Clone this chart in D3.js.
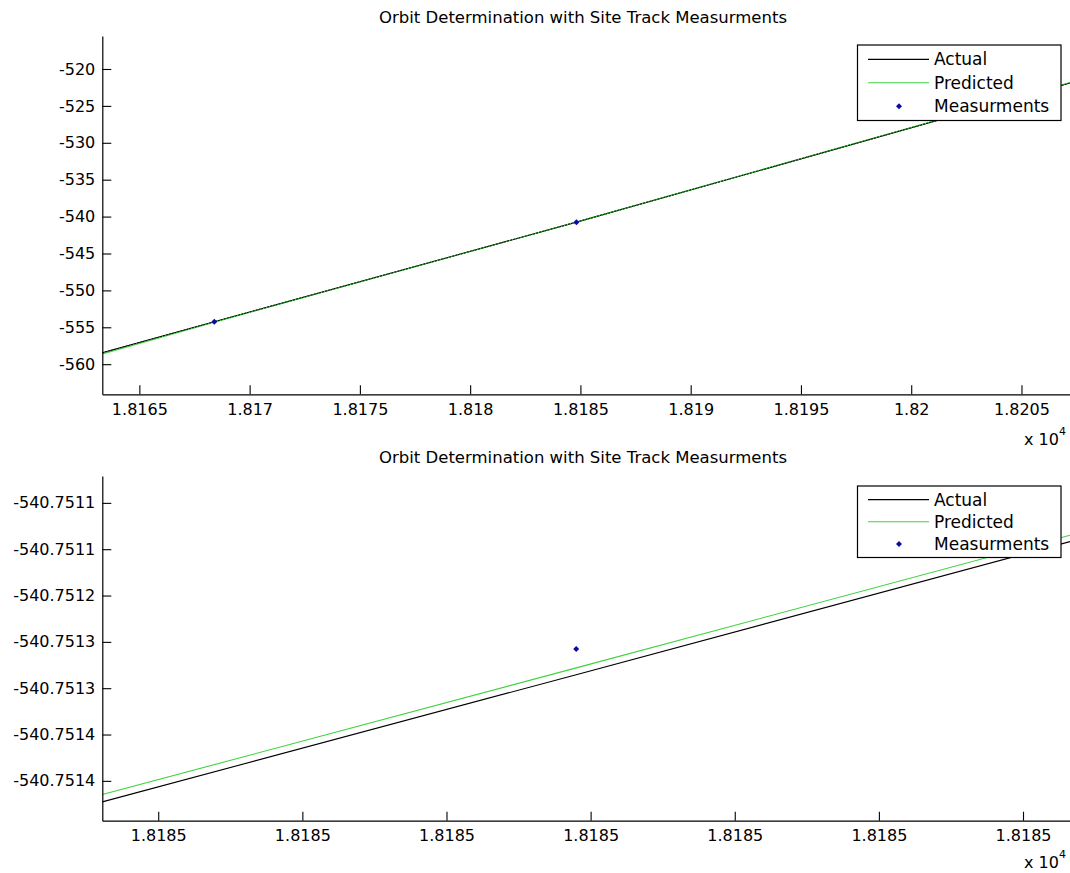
<!DOCTYPE html>
<html>
<head>
<meta charset="utf-8">
<script src="https://cdn.jsdelivr.net/npm/d3@7"></script>
<style>
  html, body { margin: 0; padding: 0; background: #fff; }
  svg { display: block; }
  text { font-family: "DejaVu Sans", sans-serif; fill: #000; }
</style>
</head>
<body>
<svg id="chart" width="1070" height="873"></svg>
<script>
// ---------- DATA ----------
const titleText = "Orbit Determination with Site Track Measurments";
const legendLabels = ["Actual", "Predicted", "Measurments"];

// Top panel
const topXDomain = [18163.32, 18207.2];
const topYDomain = [-564.08, -515.53];
const topXTicks = [18165, 18170, 18175, 18180, 18185, 18190, 18195, 18200, 18205];
const topXTickLabels = ["1.8165", "1.817", "1.8175", "1.818", "1.8185", "1.819", "1.8195", "1.82", "1.8205"];
const topYTicks = [-520, -525, -530, -535, -540, -545, -550, -555, -560];
const topYTickLabels = ["-520", "-525", "-530", "-535", "-540", "-545", "-550", "-555", "-560"];
const topTime = [18163.32, 18168.4, 18184.82, 18207.2];
const topActual = [-558.45, -554.25, -540.7513, -521.9];
const topPredicted = [-558.6, -554.3, -540.7513, -521.85];
const topMeasTime = [18168.4, 18184.82];
const topMeasVal = [-554.24, -540.7513];

// Bottom panel
const botXDomain = [18184.8198306, 18184.8201663];
const botYDomain = [-540.751443, -540.751071];
const botXTicks = [18184.81985, 18184.81990, 18184.81995, 18184.82000, 18184.82005, 18184.82010, 18184.82015];
const botXTickLabels = ["1.8185", "1.8185", "1.8185", "1.8185", "1.8185", "1.8185", "1.8185"];
const botYTicks = [-540.75110, -540.75115, -540.75120, -540.75125, -540.75130, -540.75135, -540.75140];
const botYTickLabels = ["-540.7511", "-540.7511", "-540.7512", "-540.7513", "-540.7513", "-540.7514", "-540.7514"];
const botTime = [18184.8198306, 18184.819995, 18184.8201663];
const botActual = [-540.7514227, -540.7512854, -540.7511418];
const botPredicted = [-540.7514148, -540.7512781, -540.751135];
const botMeasTime = [18184.819995];
const botMeasVal = [-540.7512576];

// ---------- STYLE ----------
const colActual = "#000000";
const colPred = "#3fd23f";
const colMeas = "#0a0aa8";

const svg = d3.select("#chart");

function panel(cfg) {
  const g = svg.append("g");
  const x = d3.scaleLinear().domain(cfg.xDomain).range([cfg.left, cfg.right]);
  const y = d3.scaleLinear().domain(cfg.yDomain).range([cfg.bottom, cfg.top]);

  const clipId = "clip" + cfg.id;
  svg.append("clipPath").attr("id", clipId)
    .append("rect").attr("x", cfg.left).attr("y", cfg.top)
    .attr("width", cfg.right - cfg.left).attr("height", cfg.bottom - cfg.top);

  const plot = g.append("g").attr("clip-path", `url(#${clipId})`);
  const line = d3.line().x(d => x(d[0])).y(d => y(d[1]));

  const act = cfg.time.map((t, i) => [t, cfg.actual[i]]);
  const pred = cfg.time.map((t, i) => [t, cfg.predicted[i]]);

  plot.append("path").datum(act).attr("d", line)
    .attr("fill", "none").attr("stroke", colActual).attr("stroke-width", 1.1);
  plot.append("path").datum(pred).attr("d", line)
    .attr("fill", "none").attr("stroke", colPred).attr("stroke-width", 1.1);
  if (cfg.id === "top") {
    // lines coincide: black drawn on top so it dominates
    plot.append("path").datum(act).attr("d", line)
      .attr("fill", "none").attr("stroke", colActual).attr("stroke-width", 0.9)
      .attr("stroke-dasharray", "2,1");
  }

  const marker = d3.symbol().type(d3.symbolSquare).size(18);
  plot.selectAll("path.meas").data(cfg.measTime.map((t, i) => [t, cfg.measVal[i]]))
    .join("path").attr("class", "meas")
    .attr("d", marker)
    .attr("transform", d => `translate(${x(d[0])},${y(d[1])}) rotate(45)`)
    .attr("fill", colMeas);

  // axes
  const xAxis = d3.axisBottom(x).tickValues(cfg.xTicks)
    .tickFormat((d, i) => cfg.xTickLabels[i]).tickSizeInner(-9).tickSizeOuter(0).tickPadding(6);
  const yAxis = d3.axisLeft(y).tickValues(cfg.yTicks)
    .tickFormat((d, i) => cfg.yTickLabels[i]).tickSizeInner(-9).tickSizeOuter(0).tickPadding(8);

  const gx = g.append("g").attr("transform", `translate(0,${cfg.bottom})`).call(xAxis);
  const gy = g.append("g").attr("transform", `translate(${cfg.left},0)`).call(yAxis);
  [gx, gy].forEach(a => {
    a.select(".domain").attr("stroke", "#000").attr("stroke-width", 1.2);
    a.selectAll(".tick line").attr("stroke", "#000").attr("stroke-width", 1.1);
    a.selectAll(".tick text").attr("font-size", 16).attr("font-family", "DejaVu Sans, sans-serif").attr("fill", "#000");
  });
  gx.selectAll(".tick text").attr("dy", "0.9em");
  gy.selectAll(".tick text").attr("dx", "1px");

  // exponent label
  const ex = g.append("text").attr("x", cfg.right - 46).attr("y", cfg.bottom + cfg.expOffset)
    .attr("font-size", 16);
  ex.append("tspan").text("x 10");
  ex.append("tspan").attr("dy", -10).attr("font-size", 11).text("4");

  // title
  g.append("text").attr("x", 583).attr("y", cfg.top - 13)
    .attr("text-anchor", "middle").attr("font-size", 16.5).text(titleText);

  // legend
  const lg = g.append("g").attr("transform", `translate(857.5,${cfg.legendTop})`);
  lg.append("rect").attr("x", 0).attr("y", 0).attr("width", 203.5).attr("height", cfg.legendH)
    .attr("fill", "#fff").attr("stroke", "#000").attr("stroke-width", 1.2);
  const rows = [cfg.legendH * 0.19, cfg.legendH * 0.5, cfg.legendH * 0.81];
  lg.append("line").attr("x1", 10.5).attr("x2", 71.5).attr("y1", rows[0]).attr("y2", rows[0])
    .attr("stroke", colActual).attr("stroke-width", 1.1);
  lg.append("line").attr("x1", 10.5).attr("x2", 71.5).attr("y1", rows[1]).attr("y2", rows[1])
    .attr("stroke", colPred).attr("stroke-width", 1.1);
  lg.append("path").attr("d", marker).attr("transform", `translate(41.5,${rows[2]}) rotate(45)`).attr("fill", colMeas);
  legendLabels.forEach((lab, i) => {
    lg.append("text").attr("x", 76.5).attr("y", rows[i]).attr("dy", "0.36em")
      .attr("font-size", 17).text(lab);
  });
}

panel({
  id: "top", left: 102.3, right: 1070, top: 36, bottom: 394.3,
  xDomain: topXDomain, yDomain: topYDomain,
  xTicks: topXTicks, xTickLabels: topXTickLabels,
  yTicks: topYTicks, yTickLabels: topYTickLabels,
  time: topTime, actual: topActual, predicted: topPredicted,
  measTime: topMeasTime, measVal: topMeasVal,
  legendTop: 45, legendH: 75.5, expOffset: 51
});

panel({
  id: "bot", left: 102.3, right: 1070, top: 476, bottom: 820.7,
  xDomain: botXDomain, yDomain: botYDomain,
  xTicks: botXTicks, xTickLabels: botXTickLabels,
  yTicks: botYTicks, yTickLabels: botYTickLabels,
  time: botTime, actual: botActual, predicted: botPredicted,
  measTime: botMeasTime, measVal: botMeasVal,
  legendTop: 486, legendH: 71.5, expOffset: 47
});
</script>
</body>
</html>
